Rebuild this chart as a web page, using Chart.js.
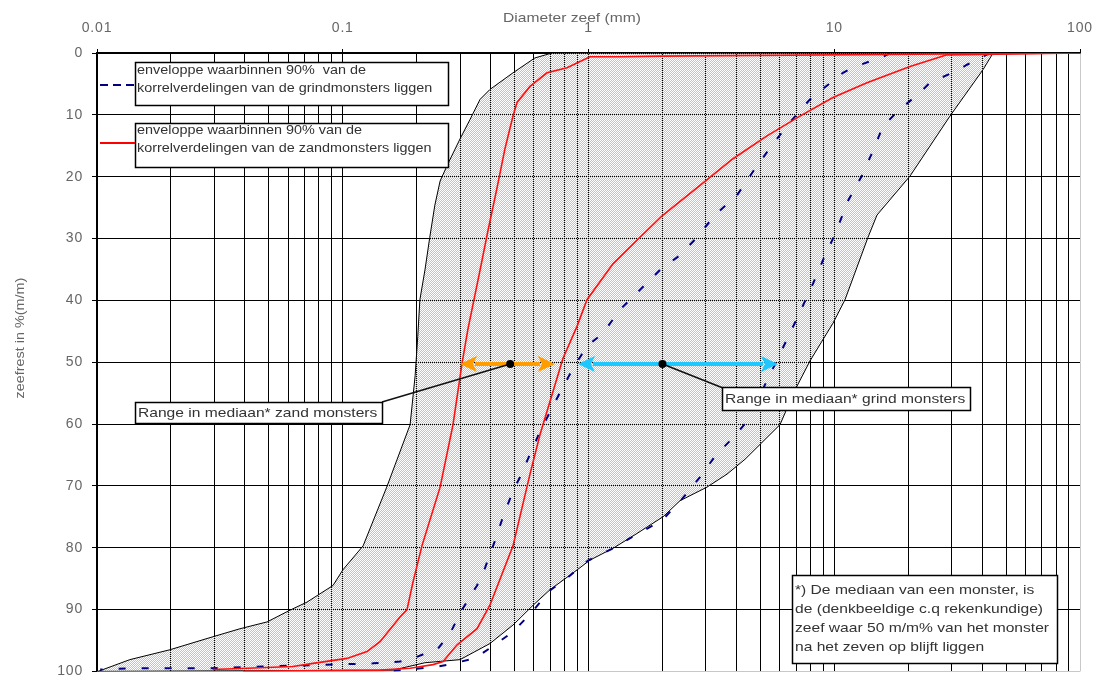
<!DOCTYPE html>
<html>
<head>
<meta charset="utf-8">
<title>Zeefkrommen</title>
<script src="https://cdn.jsdelivr.net/npm/chart.js@4.4.1/dist/chart.umd.min.js"></script>
<style>
  html, body { margin: 0; padding: 0; background: #fff; }
  canvas { display: block; }
</style>
</head>
<body>
<canvas id="sieveChart" width="1107" height="686"></canvas>
<script>
// axis ticks
const decadeTicks = [0.01, 0.1, 1, 10, 100];
const decadeLabels = ['0.01', '0.1', '1', '10', '100'];
const residueTicks = [0, 10, 20, 30, 40, 50, 60, 70, 80, 90, 100];

// grey envelope: fine side (top -> bottom), then coarse side (bottom -> top)
const envFineD = [0.71, 0.605, 0.493, 0.397, 0.362, 0.33, 0.30, 0.268, 0.249, 0.237, 0.226, 0.216, 0.206, 0.202, 0.197, 0.188, 0.151, 0.121, 0.100, 0.0913, 0.0715, 0.061, 0.0492, 0.0382, 0.0296, 0.0198, 0.0136, 0.0101];
const envFineR = [0, 0.8, 3.2, 5.9, 7.5, 10.7, 13.9, 17.9, 20.7, 24.6, 29.8, 35.1, 39.9, 45.8, 52.2, 60.1, 70.2, 79.7, 83.6, 86.1, 88.8, 90.1, 92.0, 93.1, 94.4, 96.5, 98.1, 100];
const envCoarseD = [0.16, 0.216, 0.30, 0.397, 0.493, 0.595, 0.697, 0.898, 1.014, 1.258, 1.575, 2.01, 2.357, 3.035, 3.661, 4.334, 4.988, 6.016, 6.922, 7.967, 8.916, 9.883, 11.06, 13.72, 14.93, 20.34, 29.58, 40.3, 44.3];
const envCoarseR = [99.8, 98.6, 98.1, 95.5, 92.5, 89.3, 86.8, 83.6, 82.0, 80.1, 77.7, 75.0, 72.4, 70.2, 68.1, 65.7, 63.3, 60.1, 54.5, 49.8, 46.6, 43.7, 39.9, 29.8, 26.2, 19.9, 10.2, 2.7, 0];

// red: 90% envelope of the sand samples
const sandFineD = [100, 2.0, 1.344, 1.014, 0.818, 0.678, 0.578, 0.512, 0.493, 0.457, 0.424, 0.39, 0.362, 0.323, 0.306, 0.281, 0.249, 0.21, 0.193, 0.1826, 0.171, 0.1418, 0.1255, 0.104, 0.0757, 0.0627, 0.0408, 0.0296];
const sandFineR = [0, 0.5, 0.6, 0.6, 2.4, 3.2, 5.4, 8.0, 10.2, 15.5, 21.9, 28.7, 35.1, 44.7, 50.1, 60.1, 70.2, 79.7, 85.6, 90.0, 91.2, 95.2, 96.8, 97.9, 98.7, 99.2, 99.5, 99.7];
const sandCoarseD = [100, 28.76, 20.34, 13.59, 9.883, 7.255, 5.325, 3.873, 2.843, 2.01, 1.62, 1.258, 0.986, 0.898, 0.787, 0.635, 0.578, 0.493, 0.397, 0.352, 0.292, 0.256, 0.233, 0.188, 0.142, 0.0393];
const sandCoarseR = [0, 0.3, 2.2, 4.8, 7.2, 10.2, 13.4, 17.1, 21.4, 26.2, 29.8, 34.1, 39.9, 44.2, 49.4, 61.7, 68.1, 79.7, 89.3, 93.1, 95.7, 98.4, 98.9, 99.5, 99.8, 100];

// blue: 90% envelope of the gravel samples
const gravelFineD = [16.86, 15.79, 12.15, 10.85, 8.916, 7.967, 6.604, 5.634, 4.759, 4.021, 3.272, 2.764, 2.357, 1.954, 1.62, 1.344, 1.146, 0.986, 0.865, 0.766, 0.635, 0.526, 0.493, 0.449, 0.416, 0.379, 0.352, 0.306, 0.273, 0.244, 0.193, 0.171, 0.1328, 0.0913, 0.0474, 0.0288, 0.0133, 0.0103];
const gravelFineR = [0, 0.6, 2.2, 3.2, 5.9, 7.5, 11.2, 14.7, 18.7, 23.0, 26.2, 29.8, 32.7, 35.1, 38.3, 41.5, 45.3, 47.4, 51.0, 54.9, 61.2, 68.6, 70.8, 75.0, 78.9, 83.3, 86.1, 90.0, 93.9, 96.3, 97.9, 98.4, 98.7, 98.9, 99.2, 99.5, 99.5, 99.7];
const gravelCoarseD = [43.03, 34.69, 30.99, 24.52, 22.33, 18.17, 15.79, 14.38, 12.97, 11.38, 10.07, 9.0, 8.194, 7.12, 6.42, 5.634, 4.416, 3.873, 3.272, 2.843, 2.402, 1.991, 1.546, 1.258, 0.995, 0.802, 0.697, 0.589, 0.493, 0.405, 0.345, 0.268, 0.244, 0.188, 0.15];
const gravelCoarseR = [0, 1.9, 3.0, 4.8, 6.4, 9.4, 11.8, 15.8, 19.8, 23.9, 29.3, 33.5, 37.3, 42.6, 46.3, 51.0, 59.6, 62.2, 65.2, 68.6, 72.1, 75.6, 78.0, 80.1, 82.1, 85.2, 86.9, 90.4, 93.6, 96.0, 97.9, 98.9, 99.2, 99.7, 100];

// median ranges (arrows at 50 %)
const medianLevel = 50.3;
const sandMedianRange = [0.30, 0.73];
const sandMedianMark = 0.48;
const gravelMedianRange = [0.906, 5.9];
const gravelMedianMark = 2.0;

const FONT = '"Liberation Sans", Arial, sans-serif';
const pts = (d, r) => d.map((v, i) => ({ x: v, y: r[i] }));

const xTickValues = [];
decadeTicks.slice(0, -1).forEach((d) => {
  for (let k = 1; k < 10; k++) xTickValues.push(Number((k * d).toPrecision(2)));
});
xTickValues.push(100);

// fine checker so the grid shows through as dotted lines
function hatchPattern() {
  const tile = document.createElement('canvas');
  tile.width = 2;
  tile.height = 2;
  const g = tile.getContext('2d');
  g.fillStyle = '#c2c2c2';
  g.fillRect(1, 0, 1, 1);
  g.fillRect(0, 1, 1, 1);
  return g.createPattern(tile, 'repeat');
}

function text(ctx, str, x, y, size, color, sx = 1.2) {
  ctx.save();
  ctx.letterSpacing = '0px';
  ctx.font = `${size}px ${FONT}`;
  ctx.fillStyle = color;
  ctx.textBaseline = 'middle';
  ctx.textAlign = 'left';
  ctx.translate(x, y);
  ctx.scale(sx, 1);
  ctx.fillText(str, 0, 0);
  ctx.restore();
}

function box(ctx, x, y, w, h) {
  ctx.save();
  ctx.fillStyle = '#fff';
  ctx.fillRect(x, y, w, h);
  ctx.strokeStyle = '#000';
  ctx.lineWidth = 1.5;
  ctx.strokeRect(x + 0.5, y + 0.5, w, h);
  ctx.restore();
}

function arrow(ctx, x1, x2, y, color) {
  const head = 17, half = 8;
  ctx.save();
  ctx.strokeStyle = color;
  ctx.fillStyle = color;
  ctx.lineWidth = 4;
  ctx.beginPath();
  ctx.moveTo(x1 + head - 2, y);
  ctx.lineTo(x2 - head + 2, y);
  ctx.stroke();
  [[x1, 1], [x2, -1]].forEach(([tip, dir]) => {
    ctx.beginPath();
    ctx.moveTo(tip, y);
    ctx.lineTo(tip + dir * head, y - half);
    ctx.lineTo(tip + dir * (head - 4), y);
    ctx.lineTo(tip + dir * head, y + half);
    ctx.closePath();
    ctx.fill();
  });
  ctx.restore();
}

const overlay = {
  id: 'sieveOverlay',
  beforeDraw(chart) {
    chart.ctx.letterSpacing = '0.8px';
  },
  afterDraw(chart) {
    const { ctx } = chart;
    const { x, y } = chart.scales;
    const yMed = y.getPixelForValue(medianLevel);

    arrow(ctx, x.getPixelForValue(sandMedianRange[0]), x.getPixelForValue(sandMedianRange[1]), yMed, '#ff9c00');
    arrow(ctx, x.getPixelForValue(gravelMedianRange[0]), x.getPixelForValue(gravelMedianRange[1]), yMed, '#1ec8ff');

    const sandDot = x.getPixelForValue(sandMedianMark);
    const gravelDot = x.getPixelForValue(gravelMedianMark);
    ctx.save();
    ctx.strokeStyle = '#111';
    ctx.lineWidth = 1.5;
    ctx.beginPath();
    ctx.moveTo(sandDot, yMed);
    ctx.lineTo(382, 402);
    ctx.moveTo(gravelDot, yMed);
    ctx.lineTo(723, 388);
    ctx.stroke();
    ctx.fillStyle = '#000';
    [sandDot, gravelDot].forEach((px) => {
      ctx.beginPath();
      ctx.arc(px, yMed, 4, 0, Math.PI * 2);
      ctx.fill();
    });
    ctx.restore();

    // legend
    box(ctx, 135, 62, 313, 43);
    box(ctx, 135, 123, 313, 44);
    ctx.save();
    ctx.lineWidth = 2;
    ctx.strokeStyle = '#000080';
    ctx.setLineDash([8, 5]);
    ctx.beginPath();
    ctx.moveTo(100, 85);
    ctx.lineTo(135, 85);
    ctx.stroke();
    ctx.setLineDash([]);
    ctx.strokeStyle = '#ff0000';
    ctx.beginPath();
    ctx.moveTo(100, 143);
    ctx.lineTo(135, 143);
    ctx.stroke();
    ctx.restore();
    text(ctx, 'enveloppe waarbinnen 90%  van de', 137, 71, 12, '#333');
    text(ctx, 'korrelverdelingen van de grindmonsters liggen', 137, 89, 12, '#333');
    text(ctx, 'enveloppe waarbinnen 90% van de', 137, 131, 12, '#333');
    text(ctx, 'korrelverdelingen van de zandmonsters liggen', 137, 149, 12, '#333');

    // callout labels
    box(ctx, 135, 402, 247, 21);
    text(ctx, 'Range in mediaan* zand monsters', 138, 413, 13, '#333');
    box(ctx, 722, 387, 248, 23);
    text(ctx, 'Range in mediaan* grind monsters', 725, 399, 13, '#333');

    // note
    box(ctx, 792, 575, 265, 88);
    const note = [
      '*) De mediaan van een monster, is',
      'de (denkbeeldige c.q rekenkundige)',
      'zeef waar 50 m/m% van het monster',
      'na het zeven op blijft liggen',
    ];
    note.forEach((line, i) => text(ctx, line, 795, 590 + i * 19, 13, '#333'));

    // axis titles
    ctx.save();
    ctx.letterSpacing = '0px';
    ctx.font = `13px ${FONT}`;
    ctx.fillStyle = '#666';
    ctx.textAlign = 'center';
    ctx.textBaseline = 'middle';
    ctx.save();
    ctx.translate(572, 18);
    ctx.scale(1.2, 1);
    ctx.fillText('Diameter zeef (mm)', 0, 0);
    ctx.restore();
    ctx.translate(21, 338);
    ctx.rotate(-Math.PI / 2);
    ctx.scale(1.2, 1);
    ctx.font = `12px ${FONT}`;
    ctx.fillText('zeefrest in %(m/m)', 0, 0);
    ctx.restore();
  },
};

const lineStyle = { pointRadius: 0, tension: 0, fill: false };

new Chart(document.getElementById('sieveChart'), {
  type: 'line',
  data: {
    datasets: [
      { ...lineStyle, label: 'zand fijn', data: pts(sandFineD, sandFineR), borderColor: '#ff1010', borderWidth: 1.6, order: 1 },
      { ...lineStyle, label: 'zand grof', data: pts(sandCoarseD, sandCoarseR), borderColor: '#ff1010', borderWidth: 1.6, order: 1 },
      { ...lineStyle, label: 'grind fijn', data: pts(gravelFineD, gravelFineR), borderColor: '#000080', borderWidth: 2, borderDash: [7, 16], order: 2 },
      { ...lineStyle, label: 'grind grof', data: pts(gravelCoarseD, gravelCoarseR), borderColor: '#000080', borderWidth: 2, borderDash: [7, 16], order: 2 },
      {
        label: 'enveloppe',
        data: pts(envFineD.concat(envCoarseD, [envFineD[0]]), envFineR.concat(envCoarseR, [envFineR[0]])),
        borderColor: '#000',
        borderWidth: 1,
        backgroundColor: hatchPattern(),
        fill: 'shape',
        pointRadius: 0,
        tension: 0,
        order: 5,
      },
    ],
  },
  options: {
    responsive: false,
    animation: false,
    events: [],
    layout: { padding: { left: 0, top: 0, right: 27, bottom: 6 } },
    plugins: { legend: { display: false }, tooltip: { enabled: false } },
    scales: {
      x: {
        type: 'logarithmic',
        position: 'top',
        min: 0.01,
        max: 100,
        afterBuildTicks: (s) => { s.ticks = xTickValues.map((v) => ({ value: v, major: decadeTicks.includes(v) })); },
        afterFit: (s) => { s.height = 53; },
        ticks: {
          autoSkip: false,
          maxRotation: 0,
          padding: 12,
          color: '#666',
          font: { family: FONT, size: 14 },
          callback: (v) => {
            const i = decadeTicks.indexOf(v);
            return i >= 0 ? decadeLabels[i] : '';
          },
        },
        grid: {
          color: (c) => (c.tick && c.tick.value === 100 ? '#c8c8c8' : '#000'),
          lineWidth: 1,
          tickLength: 4,
          tickColor: (c) => (c.tick && c.tick.major ? '#000' : 'rgba(0,0,0,0)'),
        },
        border: { color: '#000', width: 1.5 },
      },
      y: {
        type: 'linear',
        reverse: true,
        min: 0,
        max: 100,
        afterBuildTicks: (s) => { s.ticks = residueTicks.map((v) => ({ value: v })); },
        afterFit: (s) => { s.width = 97; },
        ticks: { padding: 9, color: '#666', font: { family: FONT, size: 14, lineHeight: 0.8 } },
        grid: {
          color: (c) => (c.tick && c.tick.value === 100 ? '#c8c8c8' : '#000'),
          lineWidth: 1,
          tickLength: 5,
          tickColor: '#000',
        },
        border: { color: '#000', width: 1.5 },
      },
    },
  },
  plugins: [overlay],
});
</script>
</body>
</html>
